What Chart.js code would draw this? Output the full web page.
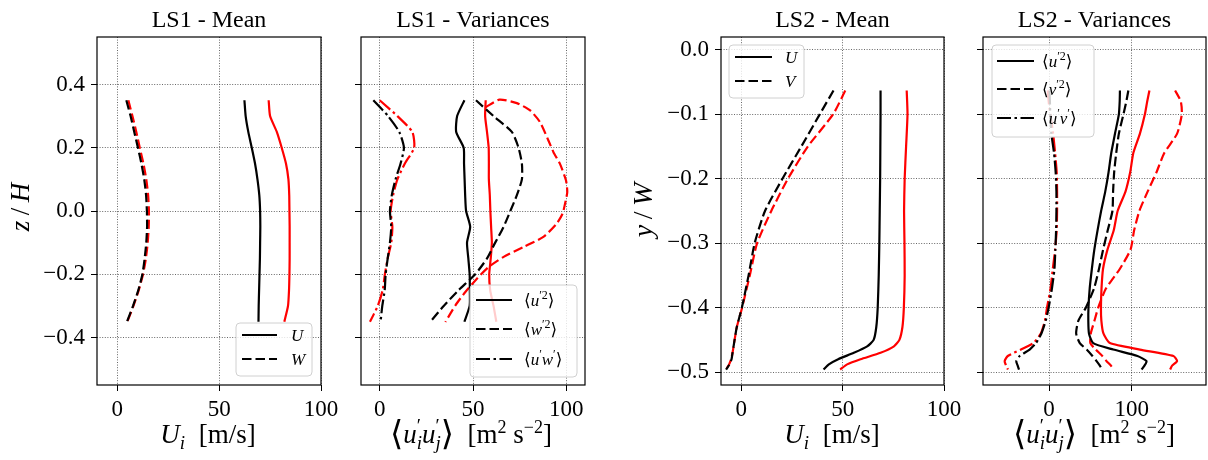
<!DOCTYPE html>
<html>
<head>
<meta charset="utf-8">
<script src="https://cdn.jsdelivr.net/npm/chart.js@4.4.1/dist/chart.umd.min.js"></script>
<style>
  body { margin: 0; background: #fff; }
  #wrap { position: relative; width: 1208px; height: 460px; overflow: hidden; }
  canvas { position: absolute; top: 0; }
</style>
</head>
<body>
<div id="wrap">
  <canvas id="c1" width="345" height="460" style="left:0px"></canvas>
  <canvas id="c2" width="275" height="460" style="left:335px"></canvas>
  <canvas id="c3" width="370" height="460" style="left:600px"></canvas>
  <canvas id="c4" width="248" height="460" style="left:960px"></canvas>
</div>
<script>
// ---- LS1 (z/H) ----
const ls1Z = [0.35, 0.3, 0.25, 0.2, 0.15, 0.1, 0.05, 0, -0.05, -0.1, -0.15, -0.2, -0.25, -0.3, -0.35];
const ls1U_black = [62.4, 63, 64.3, 66, 67.6, 68.8, 69.7, 70.1, 70.2, 70.1, 70, 69.8, 69.6, 69.4, 69.3];
const ls1U_red = [74.3, 75, 78.3, 80.7, 82.8, 84, 84.4, 84.5, 84.6, 84.6, 84.6, 84.5, 84.3, 83.8, 82];
const ls1W_black = [4.4, 6.5, 8.3, 10.1, 11.8, 13.2, 14.1, 14.5, 14.6, 14.2, 13.4, 12.3, 10.3, 7.7, 4.7];
const ls1W_red = [5.4, 7.4, 9.3, 11, 12.8, 14.2, 15.1, 15.5, 15.4, 14.9, 14, 12.6, 10.5, 7.9, 4.9];

const ls1uu_black = [45.4, 41.5, 41, 45, 45.2, 45.5, 45.8, 46.3, 48.5, 46.8, 47.5, 48.2, 48.3, 48.2, 45.4];
const ls1uu_red = [56.8, 56.5, 57.5, 58.4, 58.5, 58.5, 59, 59.3, 59.7, 60.1, 59.5, 58.7, 59.2, 61, 62.5];
const ls1ww_black = [51.6, 61, 70.8, 74.4, 76.2, 76.2, 73.5, 70, 66.4, 61.9, 57.5, 51.2, 42.3, 34.3, 27.2];
const ls1uw_black = [-3.4, 4.5, 10.5, 13, 11.2, 8.5, 6.5, 5.5, 6.2, 5.5, 4.3, 3.2, 2.7, 1.4, 0.5];
const ls1uw_red = [0, 9.5, 17.5, 18.5, 13.5, 9.5, 7.2, 5.9, 6.8, 6.2, 4.3, 2.8, 1.6, -1, -5.2];
// red <w'2> curls over at the top, so it keeps its own z values
const ls1ww_redZ = [0.328, 0.352, 0.341, 0.318, 0.281, 0.223, 0.186, 0.149, 0.097, 0.06, 0.023, -0.008, -0.04, -0.082, -0.114, -0.145, -0.177, -0.214, -0.256, -0.298, -0.351];
const ls1ww_red = [56.8, 64.2, 73.5, 80.6, 85.9, 90.4, 93.1, 96.6, 99.8, 100.5, 99.3, 98, 94.8, 87.7, 77, 66.4, 58.4, 52.1, 45.9, 40.6, 35.2];

// ---- LS2 (y/W) ----
const ls2Y = [-0.063, -0.1, -0.15, -0.2, -0.25, -0.3, -0.35, -0.4, -0.43, -0.45, -0.46, -0.47, -0.48, -0.488, -0.496];
const ls2U_black = [68.7, 68.7, 68.6, 68.5, 68.3, 68.1, 67.8, 67.3, 66.6, 65.3, 62.1, 55.5, 47.8, 43.2, 40.6];
const ls2U_red = [81.6, 82, 81.3, 80.6, 80.3, 80.5, 80.6, 80.2, 79.5, 78, 75.3, 68.7, 58.8, 52.2, 48.8];
const ls2V_black = [45.5, 38.7, 29.6, 20.3, 11.7, 6.6, 3.6, 0.3, -2.2, -3.3, -3.8, -4.3, -4.8, -5.8, -7.5];
const ls2V_red = [51.3, 45.3, 32.8, 23, 14.8, 7.8, 4.2, 0.4, -2.2, -3.3, -3.8, -4.3, -5, -6, -7.5];

const ls2Yv = [-0.063, -0.08, -0.1, -0.13, -0.16, -0.19, -0.22, -0.25, -0.28, -0.31, -0.34, -0.37, -0.4, -0.42, -0.44, -0.455, -0.465, -0.475, -0.483, -0.49, -0.496];
const ls2uu_black = [85.8, 85.5, 84.5, 79.8, 75.3, 72, 68, 63, 58.7, 54.8, 51.8, 49.2, 47.7, 47.5, 48.3, 53.4, 77.7, 107, 118, 115.5, 112];
const ls2vv_black = [96, 93.5, 90, 84.5, 81.3, 78.8, 77.5, 76.7, 71, 65.4, 60.4, 54.5, 44.5, 35.5, 32.8, 37.2, 45.5, 52.5, 57.5, 61.5, 64];
const ls2uv_black = [0.5, 1, 1.5, 2.8, 6, 8, 8.9, 8.9, 8.5, 7.6, 6.5, 3.5, -0.5, -4, -9.3, -15.8, -23.5, -35.6, -39.7, -38, -36.4];
const ls2uu_red = [121.5, 118.8, 116, 110, 102, 98.2, 92.5, 83, 78.3, 70.7, 65.3, 63.5, 62.8, 63.3, 65.8, 73.7, 110, 150.6, 155, 149, 146.6];
const ls2vv_red = [152.6, 159.5, 160.7, 155, 139.5, 130, 119.3, 109.3, 103, 98.6, 85.6, 69, 59.5, 55, 50.5, 50, 56.5, 64.5, 69.6, 75, 78.5];
const ls2uv_red = [-1.5, -0.5, 1.5, 4.9, 7.3, 9.2, 9.7, 9.7, 9.2, 7.3, 4.5, 1.8, -2.5, -5, -10, -19, -34, -50, -53.8, -52, -49.8];

// ticks
const ls1YTicks = [-0.4, -0.2, 0, 0.2, 0.4];
const ls2YTicks = [-0.5, -0.4, -0.3, -0.2, -0.1, 0];
const meanXTicks = [0, 50, 100];
const varXTicks = [0, 50, 100];
const ls2VarXTicks = [0, 100];

const SOLID = [];
const DASH = [9.5, 4];
const DASHDOT = [14, 3.5, 2.5, 3.5];
const FONT = '"Liberation Serif", "DejaVu Serif", serif';
const LW = 2.2;

function pts(xs, zs) {
  return xs.map((x, k) => ({ x: x, y: zs[k] }));
}

function line(xs, zs, color, dash) {
  return {
    data: pts(xs, zs),
    borderColor: color,
    borderWidth: LW,
    borderDash: dash,
    showLine: true,
    pointRadius: 0,
    tension: 0.2,
    fill: false,
  };
}

// rich text part: text, size, italic, dy, no-advance
function P(t, s, i, dy, n) {
  return { t: t, s: s, i: i, dy: dy || 0, n: n };
}

function rich(ctx, parts, x, y, align) {
  let w = 0;
  parts.forEach((p) => {
    ctx.font = (p.i ? 'italic ' : '') + p.s + 'px ' + FONT;
    p.w = ctx.measureText(p.t).width;
    if (!p.n) w += p.w;
  });
  let cx = align === 'center' ? x - w / 2 : x;
  ctx.textAlign = 'left';
  ctx.textBaseline = 'alphabetic';
  parts.forEach((p) => {
    ctx.font = (p.i ? 'italic ' : '') + p.s + 'px ' + FONT;
    ctx.fillText(p.t, cx, y + p.dy);
    if (!p.n) cx += p.w;
  });
}

function fmtY(v) {
  return v.toFixed(1).replace('-', '\u2212');
}

function decor(d) {
  return {
    id: 'decor',
    afterDraw(chart) {
      const ctx = chart.ctx;
      const a = chart.chartArea;
      const off = d.left;
      ctx.save();
      // legend
      const lg = d.legend;
      ctx.beginPath();
      ctx.roundRect(lg.x0 - off, lg.y0, lg.x1 - lg.x0, lg.y1 - lg.y0, 4);
      ctx.fillStyle = 'rgba(255,255,255,0.8)';
      ctx.fill();
      ctx.strokeStyle = '#d0d0d0';
      ctx.lineWidth = 1;
      ctx.stroke();
      lg.items.forEach((it, k) => {
        const yy = lg.rows[k];
        ctx.beginPath();
        ctx.setLineDash(it.dash);
        ctx.strokeStyle = '#000';
        ctx.lineWidth = LW;
        ctx.moveTo(lg.l0 - off, yy);
        ctx.lineTo(lg.l1 - off, yy);
        ctx.stroke();
        ctx.setLineDash([]);
        ctx.fillStyle = '#000';
        rich(ctx, it.parts, lg.tx - off, yy + 6, 'left');
      });
      // frame
      ctx.strokeStyle = '#000';
      ctx.lineWidth = 1.2;
      ctx.strokeRect(a.left, a.top, a.right - a.left, a.bottom - a.top);
      // title
      ctx.fillStyle = '#000';
      rich(ctx, [P(d.title, 24)], (a.left + a.right) / 2, 27, 'center');
      // x label
      rich(ctx, d.xlabel, d.xlabelX - off, 443, 'center');
      // y label
      if (d.ylabel) {
        ctx.save();
        ctx.translate(d.ylabelX - off, d.ylabelY);
        ctx.rotate(-Math.PI / 2);
        rich(ctx, d.ylabel, 0, 0, 'center');
        ctx.restore();
      }
      ctx.restore();
    },
  };
}

function panel(id, d) {
  const a = d.area;
  const W = d.width;
  const gridOpts = { color: 'rgba(0,0,0,0.75)', lineWidth: 0.8, tickColor: '#000', tickLength: 6, tickWidth: 1, tickBorderDash: [] };
  const config = {
    type: 'scatter',
    data: { datasets: d.datasets },
    options: {
      responsive: false,
      animation: false,
      events: [],
      layout: { padding: { left: 0, top: a.top, right: W - (a.right - d.left), bottom: 0 } },
      plugins: { legend: { display: false }, tooltip: { enabled: false } },
      scales: {
        x: {
          type: 'linear',
          min: d.xr[0],
          max: d.xr[1],
          afterFit: (s) => { s.height = 460 - a.bottom; },
          afterBuildTicks: (s) => { s.ticks = d.xt.map((v) => ({ value: v })); },
          ticks: { color: '#000', font: { family: FONT, size: 23 }, padding: 5, maxRotation: 0, callback: (v) => String(v) },
          grid: gridOpts,
          border: { display: false, dash: [1, 1.6] },
        },
        y: {
          type: 'linear',
          min: d.yr[0],
          max: d.yr[1],
          afterFit: (s) => { s.width = a.left - d.left; },
          afterBuildTicks: (s) => { s.ticks = d.yt.map((v) => ({ value: v })); },
          ticks: { display: d.yLabels, color: '#000', font: { family: FONT, size: 23 }, padding: 6, callback: fmtY },
          grid: gridOpts,
          border: { display: false, dash: [1, 1.6] },
        },
      },
    },
    plugins: [decor(d)],
  };
  return new Chart(document.getElementById(id), config);
}

const uLabel = [P('U', 27, 1), P('i', 19, 1, 6), P('  [m/s]', 27)];
const varLabel = [
  P('\u27E8', 34, 0, 2), P('u', 27, 1), P('\u2032', 19, 0, -11, 1), P('i', 19, 1, 6),
  P('u', 27, 1), P('\u2032', 19, 0, -11, 1), P('j', 19, 1, 6), P('\u27E9', 34, 0, 2),
  P('  [m', 27), P('2', 18, 0, -10), P(' s', 27), P('\u22122', 18, 0, -10), P(']', 27),
];
function br(a, b) {
  // <a'b'> or <a'2> legend text
  const parts = [P('\u27E8', 17), P(a, 17, 1)];
  if (b) parts.push(P('\u2032', 12, 0, -7), P(b, 17, 1), P('\u2032', 12, 0, -7));
  else parts.push(P('\u20322', 12, 0, -7));
  parts.push(P('\u27E9', 17));
  return parts;
}

panel('c1', {
  left: 0, width: 345,
  area: { left: 97, right: 321, top: 37, bottom: 385 },
  xr: [-10, 100], yr: [-0.55, 0.55], xt: meanXTicks, yt: ls1YTicks, yLabels: true,
  title: 'LS1 - Mean',
  xlabel: uLabel, xlabelX: 208,
  ylabel: [P('z', 27, 1), P('\u2009/\u2009', 27), P('H', 27, 1)], ylabelX: 29, ylabelY: 207,
  legend: {
    x0: 236, y0: 323, x1: 312, y1: 376, l0: 242, l1: 277, tx: 291, rows: [335, 359],
    items: [{ dash: SOLID, parts: [P('U', 17, 1)] }, { dash: DASH, parts: [P('W', 17, 1)] }],
  },
  datasets: [
    line(ls1U_black, ls1Z, '#000', SOLID),
    line(ls1W_black, ls1Z, '#000', DASH),
    line(ls1U_red, ls1Z, '#ff0000', SOLID),
    line(ls1W_red, ls1Z, '#ff0000', DASH),
  ],
});

panel('c2', {
  left: 335, width: 275,
  area: { left: 361, right: 585, top: 37, bottom: 385 },
  xr: [-10, 110], yr: [-0.55, 0.55], xt: varXTicks, yt: ls1YTicks, yLabels: false,
  title: 'LS1 - Variances',
  xlabel: varLabel, xlabelX: 471,
  legend: {
    x0: 470, y0: 285, x1: 577, y1: 377, l0: 476, l1: 512, tx: 524, rows: [300, 329, 359],
    items: [
      { dash: SOLID, parts: br('u') },
      { dash: DASH, parts: br('w') },
      { dash: DASHDOT, parts: br('u', 'w') },
    ],
  },
  datasets: [
    line(ls1uu_black, ls1Z, '#000', SOLID),
    line(ls1ww_black, ls1Z, '#000', DASH),
    line(ls1uw_black, ls1Z, '#000', DASHDOT),
    line(ls1uu_red, ls1Z, '#ff0000', SOLID),
    line(ls1ww_red, ls1ww_redZ, '#ff0000', DASH),
    line(ls1uw_red, ls1Z, '#ff0000', DASHDOT),
  ],
});

panel('c3', {
  left: 600, width: 370,
  area: { left: 721, right: 944, top: 37, bottom: 385 },
  xr: [-10, 100], yr: [-0.52, 0.02], xt: meanXTicks, yt: ls2YTicks, yLabels: true,
  title: 'LS2 - Mean',
  xlabel: uLabel, xlabelX: 832,
  ylabel: [P('y', 28, 1), P('\u2009/\u2009', 28), P('W', 28, 1)], ylabelX: 652, ylabelY: 210,
  legend: {
    x0: 729, y0: 45, x1: 804, y1: 98, l0: 735, l1: 772, tx: 785, rows: [57, 81],
    items: [{ dash: SOLID, parts: [P('U', 17, 1)] }, { dash: DASH, parts: [P('V', 17, 1)] }],
  },
  datasets: [
    line(ls2U_black, ls2Y, '#000', SOLID),
    line(ls2V_black, ls2Y, '#000', DASH),
    line(ls2U_red, ls2Y, '#ff0000', SOLID),
    line(ls2V_red, ls2Y, '#ff0000', DASH),
  ],
});

panel('c4', {
  left: 960, width: 248,
  area: { left: 983, right: 1206, top: 37, bottom: 385 },
  xr: [-80, 190], yr: [-0.52, 0.02], xt: ls2VarXTicks, yt: ls2YTicks, yLabels: false,
  title: 'LS2 - Variances',
  xlabel: varLabel, xlabelX: 1094,
  legend: {
    x0: 992, y0: 45, x1: 1094, y1: 137, l0: 997, l1: 1034, tx: 1042, rows: [61, 89, 118],
    items: [
      { dash: SOLID, parts: br('u') },
      { dash: DASH, parts: br('v') },
      { dash: DASHDOT, parts: br('u', 'v') },
    ],
  },
  datasets: [
    line(ls2uu_black, ls2Yv, '#000', SOLID),
    line(ls2vv_black, ls2Yv, '#000', DASH),
    line(ls2uv_black, ls2Yv, '#000', DASHDOT),
    line(ls2uu_red, ls2Yv, '#ff0000', SOLID),
    line(ls2vv_red, ls2Yv, '#ff0000', DASH),
    line(ls2uv_red, ls2Yv, '#ff0000', DASHDOT),
  ],
});
</script>
</body>
</html>
